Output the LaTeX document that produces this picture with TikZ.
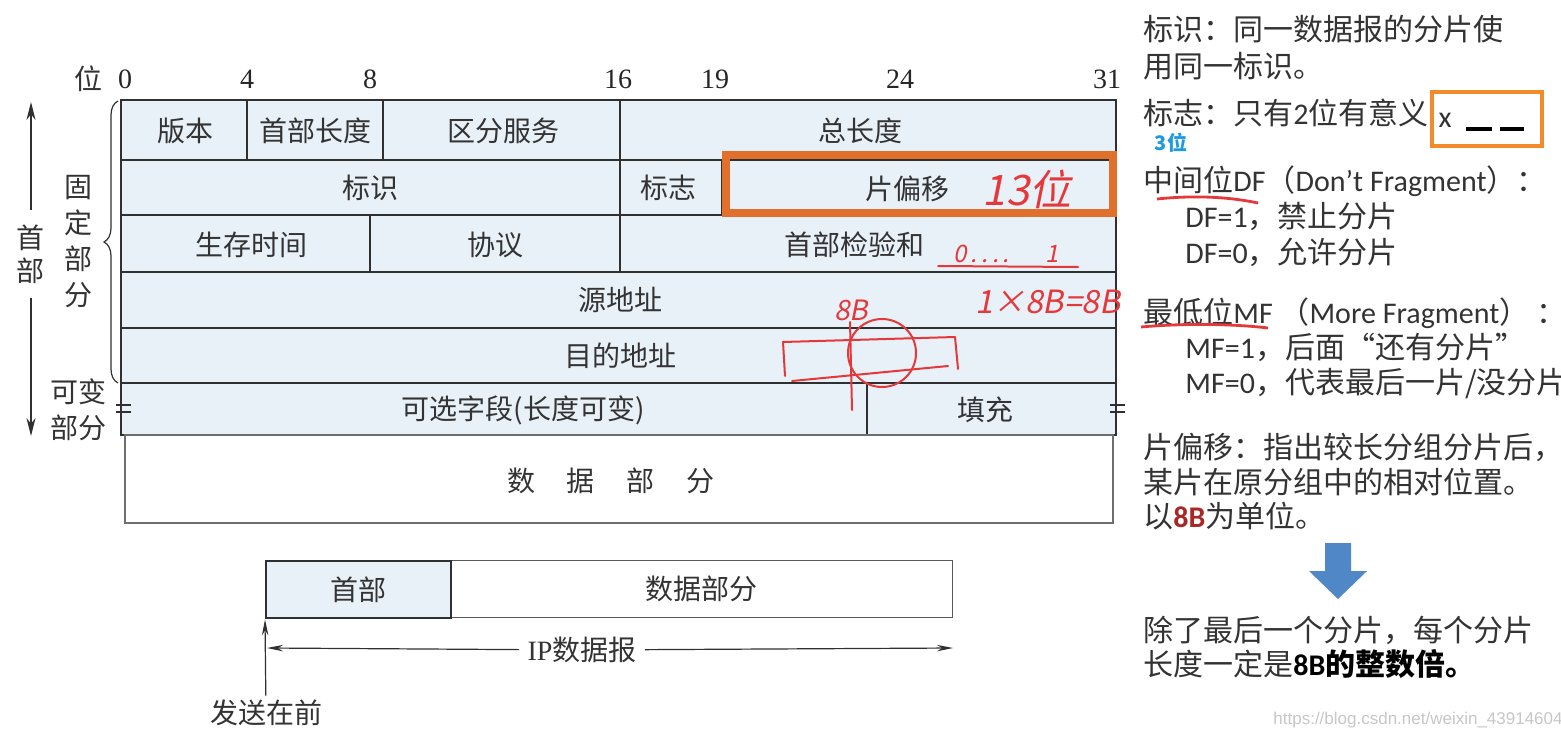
\documentclass[tikz,border=0pt]{standalone}
\usepackage{fontspec}
\usepackage{tikz}
\usetikzlibrary{arrows.meta,decorations.pathreplacing,positioning}
\setmainfont{Liberation Serif}
\newfontfamily\cjk{Noto Sans CJK SC}
\newfontfamily\hand{Noto Sans CJK SC}[FakeSlant=0.2]
\newfontfamily\lat{Carlito}
\newfontfamily\wmfont{Liberation Sans}
\newcommand\en[1]{{\lat #1}}
\definecolor{hdrblue}{HTML}{E8F0F8}
\definecolor{ruleclr}{HTML}{303030}
\definecolor{hiorange}{HTML}{E0702C}
\definecolor{boxorange}{HTML}{F58A2A}
\definecolor{pen}{HTML}{E5383A}
\definecolor{tipblue}{HTML}{1E9BE0}
\definecolor{downblue}{HTML}{4F87C7}
\definecolor{brick}{HTML}{A82828}

\tikzset{
  cell/.style={font=\cjk\fontsize{14}{16}\selectfont, text=black!80, inner sep=0pt},
  bitno/.style={font=\fontsize{14}{16}\selectfont, text=black!85, inner sep=0pt},
  note/.style={font=\cjk\fontsize{15}{18}\selectfont, text=black!80, anchor=west,
    inner sep=0pt, text height=13.5pt, text depth=2.5pt},
  gridline/.style={draw=ruleclr, line width=0.6pt},
  outline/.style={draw=ruleclr, line width=1.3pt},
  ink/.style={draw=pen, line width=1pt, line cap=round, line join=round},
  inktext/.style={font=\hand\fontsize{16}{18}\selectfont, text=pen, inner sep=0pt},
  tip/.style={-{Stealth[length=8pt,width=3.2pt]}, ruleclr, line width=0.6pt}
}

\begin{document}
\begin{tikzpicture}[x=0.5pt,y=-0.5pt]
  \useasboundingbox (0,0) rectangle (1561,738);
  \fill[white] (0,0) rectangle (1561,738);

  % header fields
  \fill[hdrblue] (121,100) rectangle (1116,435);
  \foreach \y in {160,215,272,328,383}
    \draw[gridline] (121,\y) -- (1116,\y);
  \foreach \x/\ya/\yb in {247/100/160, 383/100/160, 620/100/272, 722/160/215, 370/215/272, 867/383/435}
    \draw[gridline] (\x,\ya) -- (\x,\yb);
  \draw[outline] (121,100) rectangle (1116,435);
  \draw[hiorange, line width=4pt] (726,155) rectangle (1113,213);

  \node[cell] (ver) at (185,131) {版本};
  \node[cell] (ihl) at (315,131) {首部长度};
  \node[cell] (dsf) at (503,131) {区分服务};
  \node[cell] (tlen) at (860,131) {总长度};
  \node[cell] (ident) at (370,188) {标识};
  \node[cell] (flags) at (668,188) {标志};
  \node[cell] (foff) at (907,189) {片偏移};
  \node[cell] (ttl) at (251,245) {生存时间};
  \node[cell] (proto) at (495,245) {协议};
  \node[cell] (hcks) at (854,245) {首部检验和};
  \node[cell] (src) at (620,300) {源地址};
  \node[cell] (dst) at (620,356) {目的地址};
  \node[cell] (opt) at (523,410) {可选字段(长度可变)};
  \node[cell] (pad) at (985,410) {填充};

  % bit numbers
  \node[cell] (wei) at (88,79) {位};
  \foreach \n/\x in {0/125, 4/247, 8/370, 16/618, 19/715, 24/900, 31/1107}
    \node[bitno] (b\n) at (\x,79) {\n};

  % break marks
  \foreach \x in {116,1110}
    \draw[gridline] (\x,405) -- ++(15,0) (\x,412) -- ++(15,0);

  % data part
  \draw[ruleclr!70, line width=0.6pt] (125,435) rectangle (1113,523);
  \node[cell] (data) at (611,481) {数\hspace{16pt}据\hspace{16pt}部\hspace{16pt}分};

  % left labels
  \draw[decorate, decoration={brace, amplitude=7pt}, ruleclr, line width=0.6pt] (118,383) -- (118,101);
  \node[cell, align=center, font=\cjk\fontsize{14}{18}\selectfont] (fixed) at (78,242) {固\\定\\部\\分};
  \node[cell, align=center, font=\cjk\fontsize{14}{18}\selectfont] (vari) at (78,410) {可变\\部分};
  \node[cell, align=center, font=\cjk\fontsize{14}{16.5}\selectfont, inner ysep=7pt] (hdr) at (31,254) {首\\部};
  \coordinate (hdrtop) at (31,102);
  \coordinate (hdrbot) at (31,436);
  \draw[-{Stealth[length=9pt,width=4.5pt]}, ruleclr, line width=0.8pt] (hdr) -- (hdrtop);
  \draw[-{Stealth[length=9pt,width=4.5pt]}, ruleclr, line width=0.8pt] (hdr) -- (hdrbot);

  % datagram
  \node[cell, draw=ruleclr!80, line width=0.6pt, minimum width=251pt, minimum height=28.5pt, anchor=north west] (pay) at (450,560) {数据部分};
  \node[cell, draw=ruleclr, fill=hdrblue, line width=1.2pt, minimum width=92.5pt, minimum height=28.5pt, anchor=north west] (hd) at (265,560) {首部};
  \node[cell] (ipd) at (582,650) {{\rmfamily IP}数据报};
  \coordinate (ipl) at (267,648);
  \coordinate (ipr) at (953,648);
  \draw[tip, shorten <=4pt] (ipd) -- (ipl);
  \draw[tip, shorten <=4pt] (ipd) -- (ipr);
  \node[cell] (send) at (266,713) {发送在前};
  \draw[tip, shorten <=2pt] (send) -- (hd.south west);

  % handwritten marks
  \node[inktext, font=\hand\fontsize{21}{22}\selectfont] (thirteen) at (1027,189) {13位};
  \node[inktext, font=\hand\fontsize{12}{14}\selectfont] (zeroone) at (1006,254) {0\,.\,.\,.\,.\hspace{18pt}1};
  \draw[ink] (938,266) -- (1078,267);
  \node[inktext] (eightb) at (1048,302) {1×8B=8B};
  \node[inktext, font=\hand\fontsize{14}{16}\selectfont] (eb) at (851,310) {8B};
  \draw[ink] (882,353) circle[radius=34];
  \draw[ink] (785,376) -- (783,342) -- (955,337) -- (958,369);
  \draw[ink] (792,381) -- (948,366);
  \draw[ink] (850,322) -- (852,410);

  % notes on the right
  \node[note] (idA) at (1143,30) {标识：同一数据报的分片使};
  \node[note] (idB) at (1143,66) {用同一标识。};
  \node[note] (flg) at (1143,114) {标志：只有\en{2}位有意义};
  \draw[boxorange, line width=1.6pt] (1432,92) rectangle (1542,146);
  \node[note, anchor=center] (xbit) at (1445,116) {\en{x}};
  \draw[black, line width=1.6pt] (1466,129) -- (1492,129) (1500,129) -- (1524,129);
  \node[font=\cjk\bfseries\fontsize{10}{12}\selectfont, text=tipblue, inner sep=0pt] (three) at (1171,143) {3位};
  \node[note] (df) at (1143,180) {中间位\en{DF}（\en{Don’t Fragment}）：};
  \draw[pen, line width=1.4pt] (1157,199) .. controls (1195,195) and (1230,197) .. (1258,203);
  \node[note] (dfA) at (1185,216) {\en{DF=1}，禁止分片};
  \node[note] (dfB) at (1185,252) {\en{DF=0}，允许分片};
  \node[note] (mf) at (1143,312) {最低位\en{MF} （\en{More Fragment}） ：};
  \draw[pen, line width=1.4pt] (1141,327) .. controls (1185,323) and (1235,324) .. (1268,328);
  \node[note] (mfA) at (1185,347) {\en{MF=1}，后面“还有分片”};
  \node[note] (mfB) at (1185,382) {\en{MF=0}，代表最后一片/没分片};
  \node[note] (offA) at (1143,447) {片偏移：指出较长分组分片后，};
  \node[note] (offB) at (1143,482) {某片在原分组中的相对位置。};
  \node[note] (offC) at (1143,516) {以{\bfseries\color{brick}\en{8B}}为单位。};
  \fill[downblue] (1325,543) -- (1351,543) -- (1351,571) -- (1367,571) -- (1338,599)
    -- (1309,571) -- (1325,571) -- cycle;
  \node[note] (resA) at (1143,630) {除了最后一个分片，每个分片};
  \node[note] (resB) at (1143,664) {长度一定是{\bfseries\color{black}\en{8B}的整数倍。}};
  \node[font=\wmfont\fontsize{8.5}{10}\selectfont, text=black!22, inner sep=0pt] (wm) at (1418,720) {https://blog.csdn.net/weixin\_43914604};
\end{tikzpicture}
\end{document}
